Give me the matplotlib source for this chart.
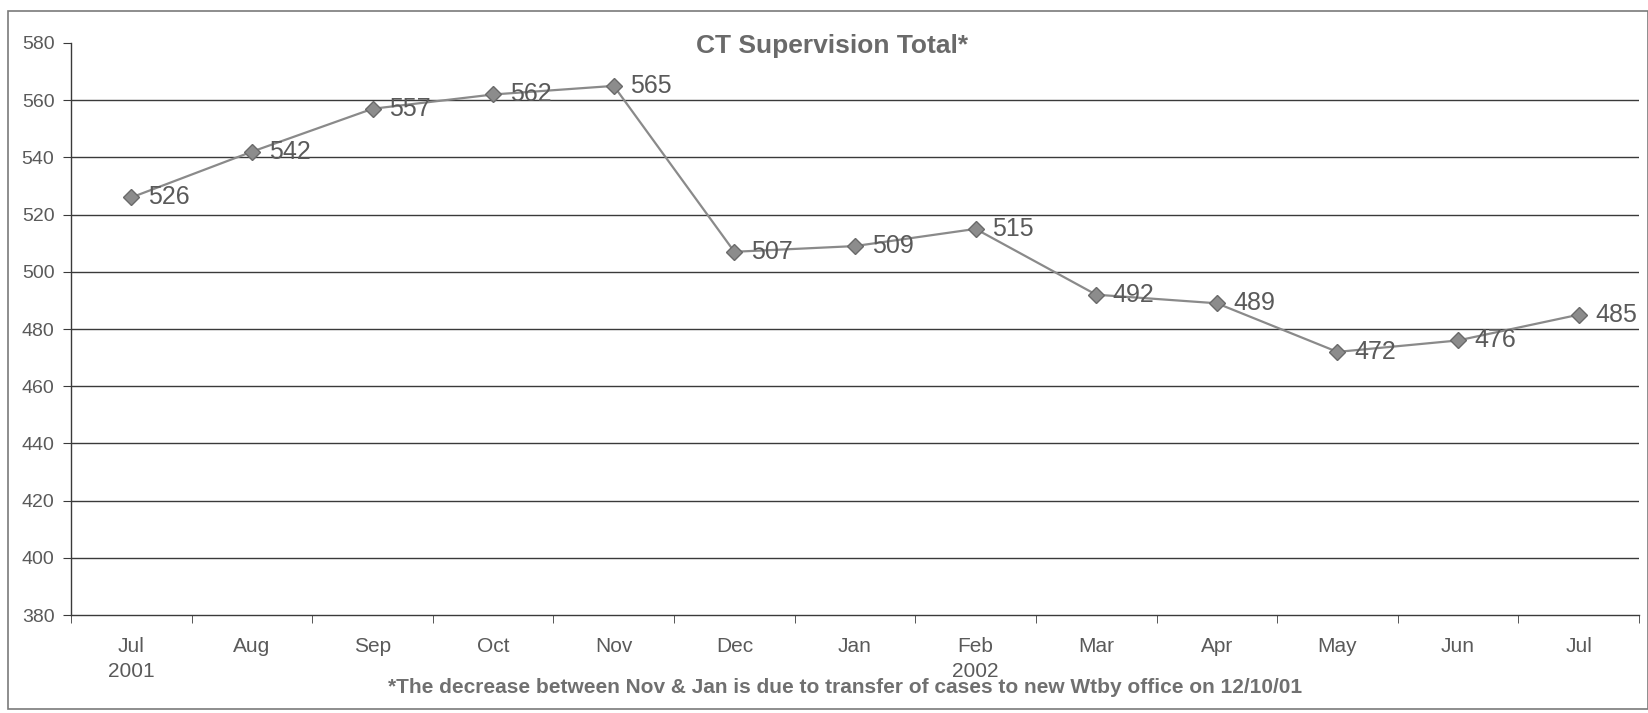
"""CT Supervision Total, Jul 2001 - Jul 2002 (scanned Excel line chart)."""

import matplotlib

matplotlib.use("Agg")
import matplotlib.pyplot as plt
from matplotlib.patches import Rectangle

MONTHS = ["Jul\n2001", "Aug", "Sep", "Oct", "Nov", "Dec", "Jan",
          "Feb\n2002", "Mar", "Apr", "May", "Jun", "Jul"]
TOTALS = [526, 542, 557, 562, 565, 507, 509, 515, 492, 489, 472, 476, 485]
Y_TICKS = list(range(380, 581, 20))

TEXT = "#5a5a5a"
GRID = "#3a3a3a"

plt.rcParams["font.family"] = ["Liberation Sans", "DejaVu Sans"]

fig = plt.figure(figsize=(16.48, 7.13), dpi=100)
ax = fig.add_axes([0.0431, 0.1374, 0.9514, 0.8023])

x = range(len(TOTALS))
ax.plot(x, TOTALS, color="#8a8a8a", linewidth=1.6, marker="D", markersize=8.5,
        markerfacecolor="#8c8c8c", markeredgecolor="#6a6a6a", zorder=3)
for xi, v in zip(x, TOTALS):
    ax.annotate(str(v), (xi, v), xytext=(12, 0), textcoords="offset points",
                ha="left", va="center", fontsize=18, color=TEXT, zorder=4)

ax.set_xlim(-0.5, len(TOTALS) - 0.5)
ax.set_ylim(380, 580)
ax.set_yticks(Y_TICKS)
ax.set_yticklabels([str(t) for t in Y_TICKS], fontsize=14, color=TEXT)
ax.set_xticks(list(x))
ax.set_xticklabels(MONTHS, fontsize=15, color=TEXT, linespacing=1.35)
ax.set_xticks([i - 0.5 for i in range(len(TOTALS) + 1)], minor=True)
ax.tick_params(axis="x", which="major", length=0, pad=16)
ax.tick_params(axis="x", which="minor", length=6, color=GRID, direction="out")
ax.tick_params(axis="y", length=6, color=GRID, pad=6)

for t in Y_TICKS[1:-1]:
    ax.axhline(t, color=GRID, linewidth=1.0, zorder=1)

for side in ("top", "right"):
    ax.spines[side].set_visible(False)
for side in ("left", "bottom"):
    ax.spines[side].set_color(GRID)
    ax.spines[side].set_linewidth(1.0)

fig.text(0.505, 0.936, "CT Supervision Total*", ha="center", va="center",
         fontsize=19, fontweight="bold", color="#6a6a6a")
fig.text(0.513, 0.036, "*The decrease between Nov & Jan is due to transfer of "
         "cases to new Wtby office on 12/10/01", ha="center", va="center",
         fontsize=15, fontweight="bold", color="#707070")

fig.patches.append(Rectangle((0.005, 0.006), 0.995, 0.978, transform=fig.transFigure,
                             fill=False, edgecolor="#7a7a7a", linewidth=1.2))

fig.savefig("out.png", dpi=100)
